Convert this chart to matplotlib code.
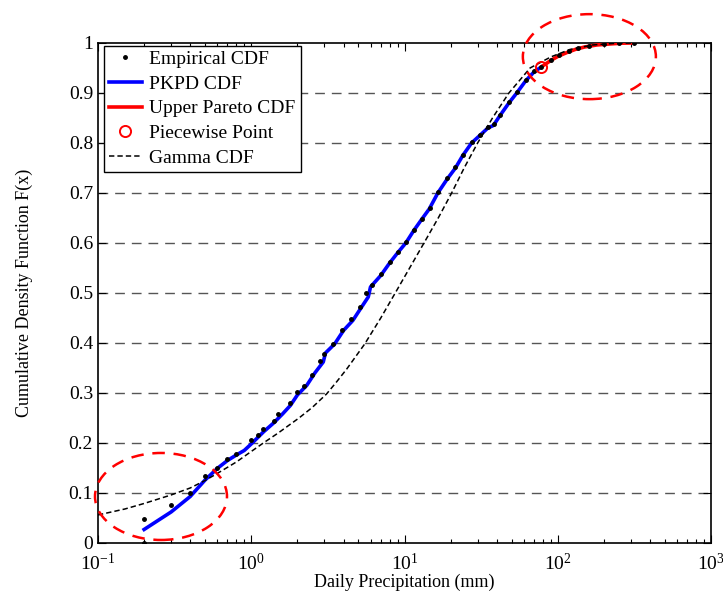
import numpy as np
import matplotlib
matplotlib.use("Agg")
import matplotlib.pyplot as plt
from matplotlib.patches import Ellipse
from matplotlib.ticker import LogLocator

plt.rcParams['font.family'] = ['Liberation Serif', 'DejaVu Serif']
plt.rcParams['mathtext.fontset'] = 'custom'
plt.rcParams['mathtext.rm'] = 'Liberation Serif'
plt.rcParams['mathtext.it'] = 'Liberation Serif:italic'

# empirical CDF points (mm, F)
emp_x = [0.2, 0.2, 0.3, 0.4, 0.5, 0.6, 0.7, 0.8, 1.0, 1.1, 1.2, 1.4, 1.5, 1.8, 2.0,
         2.2, 2.5, 2.8, 3.0, 3.4, 3.9, 4.5, 5.1, 5.6, 6.1, 7.0, 8.0, 9.1, 10.3,
         11.6, 13.0, 14.6, 16.5, 19.0, 21.5, 24.0, 27.5, 31.0, 35.0, 38.5, 42.0,
         48.0, 54.0, 62.0, 70.0, 78.0, 90.0, 102.0, 118.0, 135.0, 160.0, 200.0,
         250.0, 316.0]
emp_F = [0.0, 0.047, 0.076, 0.1, 0.134, 0.15, 0.168, 0.178, 0.205, 0.215, 0.228,
         0.243, 0.258, 0.28, 0.302, 0.314, 0.336, 0.363, 0.378, 0.398, 0.425,
         0.447, 0.472, 0.5, 0.516, 0.537, 0.561, 0.581, 0.602, 0.626, 0.648,
         0.669, 0.701, 0.729, 0.751, 0.776, 0.801, 0.816, 0.831, 0.837, 0.856,
         0.881, 0.901, 0.926, 0.943, 0.952, 0.966, 0.975, 0.983, 0.989, 0.994,
         0.998, 0.9995, 1.0]

# PKPD CDF (body)
pkpd_x = [0.2, 0.3, 0.4, 0.5, 0.6, 0.7, 0.8, 0.9, 1.0, 1.2, 1.4, 1.6, 1.8, 2.0,
          2.3, 2.6, 2.95, 3.05, 3.5, 4.0, 4.6, 5.2, 5.8, 6.0, 7.0, 8.0, 9.0, 10.2,
          11.5, 13.0, 14.5, 16.5, 19.0, 21.5, 24.0, 27.4, 31.0, 35.0, 38.0, 42.0,
          48.0, 54.0, 62.0, 70.0, 78.0]
pkpd_F = [0.027, 0.062, 0.093, 0.126, 0.149, 0.165, 0.176, 0.185, 0.198, 0.222,
          0.24, 0.258, 0.275, 0.296, 0.315, 0.34, 0.362, 0.38, 0.398, 0.425,
          0.445, 0.47, 0.492, 0.512, 0.535, 0.56, 0.58, 0.6, 0.625, 0.648, 0.668,
          0.7, 0.728, 0.75, 0.775, 0.8, 0.815, 0.83, 0.835, 0.855, 0.88, 0.9,
          0.925, 0.942, 0.952]

# upper Pareto tail
par_x = [78.0, 90.0, 100.0, 115.0, 130.0, 150.0, 180.0, 220.0, 260.0, 316.0]
par_F = [0.952, 0.965, 0.973, 0.981, 0.987, 0.992, 0.996, 0.998, 0.9995, 1.0]

# piecewise point
pw_x = [78.0]
pw_F = [0.952]

# gamma CDF
gam_x = [0.1, 0.15, 0.2, 0.3, 0.4, 0.5, 0.6, 0.8, 1.0, 1.2, 1.5, 2.05, 2.5, 3.1,
         3.6, 4.2, 5.5, 7.0, 8.7, 10.8, 13.4, 16.6, 20.3, 24.5, 30.0, 37.5, 48.0,
         66.0, 90.0, 120.0, 170.0, 230.0, 316.0]
gam_F = [0.056, 0.068, 0.079, 0.096, 0.11, 0.125, 0.139, 0.162, 0.183, 0.2, 0.22,
         0.25, 0.271, 0.298, 0.322, 0.348, 0.398, 0.45, 0.5, 0.55, 0.6, 0.65, 0.7,
         0.75, 0.8, 0.85, 0.9, 0.95, 0.972, 0.987, 0.996, 0.999, 1.0]

fig = plt.figure(figsize=(7.23, 5.94), dpi=100)
ax = fig.add_axes([0.1355, 0.0859, 0.848, 0.8418])

ax.plot(emp_x, emp_F, 'k.', markersize=5, label='Empirical CDF', zorder=4)
ax.plot(pkpd_x, pkpd_F, color='#0000ff', lw=2.6, label='PKPD CDF', zorder=3)
ax.plot(par_x, par_F, color='#ff0000', lw=2.6, label='Upper Pareto CDF', zorder=3)
ax.plot(pw_x, pw_F, 'o', mfc='none', mec='#ff0000', mew=1.4, markersize=8,
        label='Piecewise Point', zorder=5)
ax.plot(gam_x, gam_F, color='k', lw=1.1, ls=(0, (3.5, 2)), label='Gamma CDF', zorder=4)

ax.set_xscale('log')
ax.set_xlim(0.1, 1000)
ax.set_ylim(0, 1)
ax.set_yticks(np.arange(0, 1.01, 0.1))
ax.set_yticklabels(['0', '0.1', '0.2', '0.3', '0.4', '0.5', '0.6', '0.7', '0.8', '0.9', '1'])
ax.xaxis.set_major_locator(LogLocator(base=10, numticks=10))
ax.xaxis.set_minor_locator(LogLocator(base=10, subs=np.arange(2, 10), numticks=20))

for yv in np.arange(0.1, 0.95, 0.1):
    ax.axhline(yv, color='#555555', lw=1.0, ls=(0, (7, 5)), zorder=1)

ax.tick_params(which='both', direction='in', top=True, right=True, labelsize=14)
ax.tick_params(which='major', length=6, width=0.8)
ax.tick_params(which='minor', length=3, width=0.8)
ax.tick_params(axis='x', pad=7)
for s in ax.spines.values():
    s.set_linewidth(1.2)

ax.set_xlabel('Daily Precipitation (mm)', fontsize=13, labelpad=0)
ax.set_ylabel('Cumulative Density Function F(x)', fontsize=13, labelpad=26)

leg = ax.legend(loc='upper left', bbox_to_anchor=(0.0, 1.006), fontsize=14,
                frameon=True, fancybox=False, edgecolor='k', framealpha=1,
                labelspacing=0.36, handlelength=1.7, handletextpad=0.4,
                borderpad=0.25, borderaxespad=0.3)
leg.get_frame().set_linewidth(1.0)

e1 = Ellipse((0.1028, 0.093), 0.2153, 0.174, transform=ax.transAxes, fill=False,
             edgecolor='#ff0000', lw=1.8, ls=(0, (5, 3.5)), clip_on=False, zorder=6)
e2 = Ellipse((0.8015, 0.9726), 0.217, 0.17, transform=ax.transAxes, fill=False,
             edgecolor='#ff0000', lw=1.8, ls=(0, (5, 3.5)), clip_on=False, zorder=6)
ax.add_patch(e1)
ax.add_patch(e2)

fig.savefig('out.png', dpi=100)
